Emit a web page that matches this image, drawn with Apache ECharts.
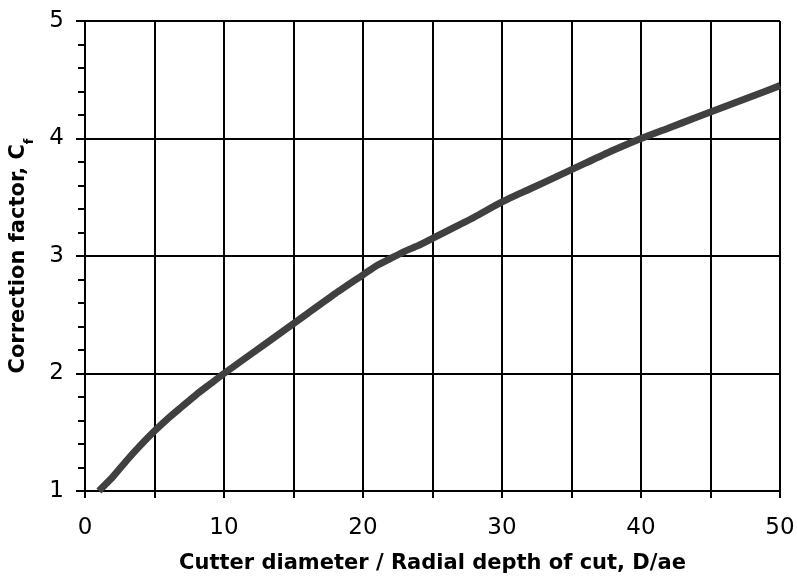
<!DOCTYPE html>
<html>
<head>
<meta charset="utf-8">
<script src="https://cdn.jsdelivr.net/npm/echarts@6/dist/echarts.min.js"></script>
<style>html,body{margin:0;padding:0;background:#fff}#c{width:797px;height:578px}</style>
</head>
<body>
<div id="c"></div>
<script>
// D/ae values (x) and correction factor Cf (y)
const ratio = [1, 1.5, 2, 3, 4, 5, 6, 7, 8, 9, 10, 12, 14, 16, 18, 20, 21, 22, 23, 24, 25, 26, 28, 30, 32, 34, 36, 38, 40, 42, 44, 46, 48, 50];
const cf    = [1.0, 1.06, 1.12, 1.26, 1.39, 1.51, 1.62, 1.72, 1.82, 1.91, 2.0, 2.17, 2.34, 2.51, 2.68, 2.84, 2.92, 2.98, 3.04, 3.09, 3.15, 3.21, 3.33, 3.46, 3.57, 3.68, 3.79, 3.9, 4.0, 4.09, 4.18, 4.27, 4.36, 4.45];
const xTicks = [0, 10, 20, 30, 40, 50];
const yTicks = [1, 2, 3, 4, 5];

const points = ratio.map((x, i) => [x, cf[i]]);
const FONT = 'DejaVu Sans';
const black = '#000';

const chart = echarts.init(document.getElementById('c'), null, {renderer: 'canvas'});
const baseX = {
  type: 'value', min: 0, max: 50, interval: 5, position: 'bottom',
  axisLine: {show: true, onZero: false, lineStyle: {color: black, width: 2}},
  splitLine: {show: true, lineStyle: {color: black, width: 2}}
};
const baseY = {
  type: 'value', min: 1, max: 5, interval: 1, position: 'left',
  axisLine: {show: true, onZero: false, lineStyle: {color: black, width: 2}},
  splitLine: {show: true, lineStyle: {color: black, width: 2}}
};
chart.setOption({
  animation: false,
  backgroundColor: '#fff',
  grid: {left: 85, right: 17, top: 21, bottom: 87, containLabel: false, outerBoundsMode: 'none'},
  xAxis: [
    Object.assign({}, baseX, {
      name: 'Cutter diameter / Radial depth of cut, D/ae',
      nameLocation: 'middle', nameGap: 62,
      nameTextStyle: {fontFamily: FONT, fontWeight: 'bold', fontSize: 21, color: black},
      axisTick: {show: true, inside: false, length: 7, lineStyle: {color: black, width: 2}},
      axisLabel: {
        show: true, margin: 26, fontFamily: FONT, fontSize: 23, color: black,
        formatter: v => (xTicks.indexOf(v) >= 0 ? String(v) : '')
      }
    }),
    Object.assign({}, baseX, {
      splitLine: {show: false},
      axisLine: {show: false},
      axisTick: {show: true, inside: true, length: 7, lineStyle: {color: black, width: 2}},
      axisLabel: {show: false}
    })
  ],
  yAxis: [
    Object.assign({}, baseY, {
      name: '{a|Correction factor, C}{s|f}',
      nameLocation: 'middle', nameGap: 49, nameRotate: 90,
      nameTextStyle: {
        fontFamily: FONT, fontWeight: 'bold', fontSize: 21, color: black,
        rich: {
          a: {fontFamily: FONT, fontWeight: 'bold', fontSize: 21, color: black, lineHeight: 28, verticalAlign: 'top'},
          s: {fontFamily: FONT, fontWeight: 'bold', fontSize: 13, color: black, lineHeight: 14, verticalAlign: 'bottom'}
        }
      },
      axisTick: {show: true, inside: false, length: 9, lineStyle: {color: black, width: 2}},
      minorTick: {show: true, splitNumber: 5, length: 6, lineStyle: {color: black, width: 2}},
      minorSplitLine: {show: false},
      axisLabel: {
        show: true, margin: 21, fontFamily: FONT, fontSize: 23, color: black,
        formatter: v => (yTicks.indexOf(v) >= 0 ? String(v) : '')
      }
    }),
    Object.assign({}, baseY, {
      splitLine: {show: false},
      axisLine: {show: false},
      axisTick: {show: false},
      minorTick: {show: true, splitNumber: 5, length: 7, inside: true, lineStyle: {color: black, width: 2}},
      axisLabel: {show: false}
    })
  ],
  series: [{
    type: 'line', xAxisIndex: 0, yAxisIndex: 0,
    data: points, symbol: 'none', smooth: 0.2,
    lineStyle: {color: '#404040', width: 7, cap: 'butt', join: 'round'},
    clip: true
  }]
});
</script>
</body>
</html>
